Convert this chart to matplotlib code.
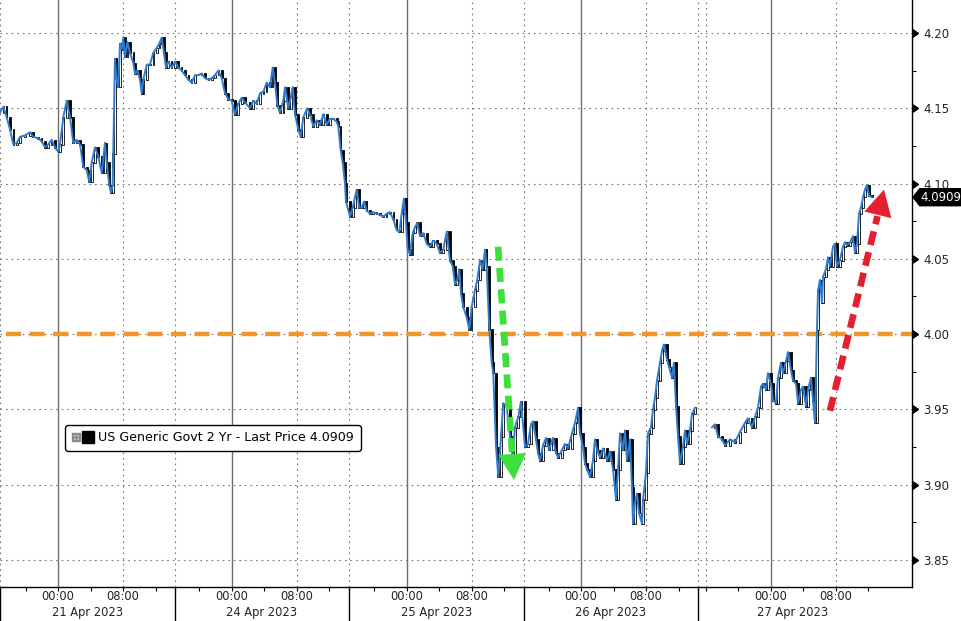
import numpy as np
import matplotlib
matplotlib.use("Agg")
import matplotlib.pyplot as plt
from matplotlib.lines import Line2D
from matplotlib.legend_handler import HandlerTuple
from matplotlib.patches import Polygon
import matplotlib.transforms as mtransforms

# ── data ─────────────────────────────────────────────────────
# x = hours along the compressed trading-time axis (sessions glued together)
t_hours = [
    0.0, 0.41, 0.82, 1.23, 1.64, 2.06, 2.46, 3.08, 3.69, 4.10, 4.71, 5.13, 5.54, 5.94,
    6.36, 6.77, 7.18, 7.38, 7.79, 8.21, 8.62, 9.02, 9.44, 9.85, 10.25, 10.67, 10.99,
    11.29, 11.69, 12.10, 12.52, 12.92, 13.13, 13.45, 13.66, 13.87, 13.94, 14.15, 14.36,
    14.56, 14.77, 14.98, 15.18, 15.38, 15.67, 16.0, 16.41, 16.62, 16.90, 17.23, 17.44,
    17.64, 18.06, 18.46, 18.87, 19.29, 19.61, 19.90, 20.18, 20.43, 20.71, 21.13, 21.54,
    21.94, 22.36, 22.77, 23.18, 23.59, 24.0, 24.41, 24.82, 25.23, 25.64, 26.06, 26.46,
    26.87, 27.29, 27.69, 28.10, 28.52, 28.92, 29.33, 29.75, 30.15, 30.77, 31.17, 31.59,
    32.0, 32.41, 32.82, 33.23, 33.56, 33.85, 34.13, 34.46, 34.87, 35.08, 35.48, 35.78,
    36.02, 36.31, 36.71, 37.01, 37.33, 37.82, 38.15, 38.56, 38.98, 39.38, 39.79, 40.21,
    40.62, 41.02, 41.44, 41.64, 41.93, 42.18, 42.46, 42.58, 43.08, 43.41, 43.69, 43.90,
    44.22, 44.52, 44.80, 45.13, 45.54, 45.94, 46.36, 46.77, 47.17, 47.59, 48.0, 48.41,
    48.82, 49.14, 49.44, 49.72, 49.97, 50.18, 50.46, 50.79, 51.08, 51.36, 51.69, 52.10,
    52.52, 52.92, 53.33, 53.75, 54.15, 54.56, 54.98, 55.38, 55.72, 56.0, 56.28, 56.53,
    56.74, 57.02, 57.44, 57.76, 58.05, 58.46, 58.74, 59.08, 59.41, 59.69, 59.90, 60.22,
    60.52, 60.71, 61.05, 61.33, 61.66, 61.94, 62.36, 62.77, 63.10, 63.38, 63.79, 64.12,
    64.62, 64.98, 65.35, 65.60, 65.97, 66.22, 66.46, 66.83, 67.20, 67.57, 68.06, 68.43,
    68.68, 69.17, 69.54, 69.91, 70.40, 70.77, 71.14, 71.38, 71.75, 72.0, 72.25, 72.62,
    72.98, 73.23, 73.48, 73.85, 74.22, 74.71, 75.08, 75.45, 75.82, 76.06, 76.31, 76.68,
    76.92, 77.17, 77.54, 77.78, 77.91, 78.15, 78.40, 78.65, 79.02, 79.14, 79.51, 79.75,
    80.12, 80.37, 80.62, 80.86, 81.23, 81.48, 81.72, 82.09, 82.34, 82.71, 82.95, 83.20,
    83.45, 83.69, 84.06, 84.31, 84.55, 84.92, 85.17, 85.54, 86.5,
    87.63, 88.0, 88.37, 88.86, 89.23, 89.85, 90.46, 91.08, 91.69, 92.06, 92.55, 92.92,
    93.29, 93.66, 93.91, 94.28, 94.52, 94.89, 95.14, 95.51, 95.75, 96.12, 96.37, 96.74,
    96.98, 97.35, 97.60, 97.97, 98.22, 98.58, 98.83, 99.20, 99.45, 99.82, 100.06, 100.31,
    100.55, 100.68, 100.92, 101.17, 101.29, 101.66, 101.91, 102.15, 102.52, 102.77,
    103.02, 103.38, 103.75, 104.0, 104.25, 104.62, 104.98, 105.23, 105.48, 105.72,
    105.97, 106.22, 106.46, 106.71, 106.95, 107.32,
]
yields = [
    4.147, 4.151, 4.144, 4.136, 4.126, 4.127, 4.131, 4.132, 4.134, 4.131, 4.130, 4.128, 4.124, 4.126,
    4.129, 4.124, 4.121, 4.126, 4.144, 4.155, 4.144, 4.127, 4.129, 4.126, 4.111, 4.109, 4.101,
    4.114, 4.124, 4.118, 4.107, 4.127, 4.114, 4.099, 4.094, 4.099, 4.120, 4.183, 4.169,
    4.164, 4.193, 4.189, 4.197, 4.184, 4.194, 4.187, 4.180, 4.173, 4.175, 4.169, 4.160,
    4.169, 4.179, 4.179, 4.187, 4.190, 4.193, 4.197, 4.187, 4.177, 4.181, 4.177, 4.181,
    4.177, 4.175, 4.172, 4.169, 4.167, 4.172, 4.172, 4.173, 4.170, 4.169, 4.170, 4.172,
    4.175, 4.170, 4.160, 4.156, 4.155, 4.146, 4.153, 4.157, 4.154, 4.150, 4.155, 4.153,
    4.160, 4.161, 4.167, 4.164, 4.177, 4.167, 4.152, 4.147, 4.155, 4.164, 4.150, 4.157,
    4.164, 4.146, 4.136, 4.131, 4.144, 4.150, 4.146, 4.138, 4.142, 4.139, 4.146, 4.139,
    4.143, 4.143, 4.141, 4.138, 4.122, 4.114, 4.100, 4.088, 4.078, 4.084, 4.091, 4.096,
    4.084, 4.084, 4.088, 4.082, 4.080, 4.081, 4.080, 4.079, 4.078, 4.080, 4.081, 4.076,
    4.069, 4.068, 4.080, 4.090, 4.074, 4.056, 4.053, 4.067, 4.071, 4.074, 4.065, 4.067,
    4.060, 4.058, 4.062, 4.060, 4.054, 4.056, 4.068, 4.049, 4.045, 4.033, 4.036, 4.043,
    4.027, 4.018, 4.011, 4.003, 4.018, 4.029, 4.036, 4.049, 4.043, 4.056, 4.045, 4.003,
    3.981, 3.974, 3.925, 3.905, 3.932, 3.954, 3.952, 3.932, 3.918, 3.938, 3.945, 3.955,
    3.925, 3.927, 3.940, 3.942, 3.930, 3.921, 3.916, 3.926, 3.931, 3.923, 3.931, 3.921,
    3.918, 3.923, 3.927, 3.924, 3.934, 3.941, 3.951, 3.934, 3.925, 3.914, 3.910, 3.905,
    3.916, 3.930, 3.923, 3.918, 3.924, 3.916, 3.922, 3.910, 3.890, 3.910, 3.934, 3.923,
    3.936, 3.916, 3.930, 3.898, 3.874, 3.888, 3.894, 3.881, 3.874, 3.890, 3.908, 3.934,
    3.938, 3.950, 3.958, 3.969, 3.981, 3.989, 3.993, 3.983, 3.978, 3.971, 3.981, 3.952,
    3.932, 3.914, 3.925, 3.936, 3.927, 3.936, 3.947, 3.951, np.nan,
    3.938, 3.940, 3.932, 3.930, 3.926, 3.930, 3.928, 3.935, 3.941, 3.944, 3.938, 3.945,
    3.951, 3.965, 3.967, 3.963, 3.974, 3.967, 3.956, 3.954, 3.971, 3.981, 3.974, 3.982,
    3.988, 3.976, 3.969, 3.967, 3.954, 3.963, 3.965, 3.952, 3.963, 3.971, 3.956, 3.941,
    4.003, 4.029, 4.036, 4.021, 4.038, 4.043, 4.051, 4.045, 4.058, 4.060,
    4.045, 4.049, 4.058, 4.061, 4.059, 4.061, 4.065, 4.054, 4.060, 4.080,
    4.084, 4.091, 4.096, 4.099, 4.092, 4.0909,
]

# sessions on the axis: start, end, position of 00:00
session_labels = ["21 Apr 2023", "24 Apr 2023", "25 Apr 2023", "26 Apr 2023", "27 Apr 2023"]
session_start = [0.0, 21.54, 42.95, 64.49, 85.91]
session_end = [21.54, 42.95, 64.49, 85.91, 109.1]
session_midnight = [7.14, 28.55, 50.09, 71.51, 94.89]

y_ticks = [3.85, 3.90, 3.95, 4.00, 4.05, 4.10, 4.15, 4.20]
y_minor = [3.875, 3.925, 3.975, 4.025, 4.075, 4.125, 4.175]
ref_level = 4.00
legend_text = "US Generic Govt 2 Yr - Last Price 4.0909"

# ── figure ───────────────────────────────────────────────────
plt.rcParams["font.family"] = ["DejaVu Sans"]
fig = plt.figure(figsize=(9.62, 6.21), dpi=100)
ax = fig.add_axes([0.0, 1 - 587 / 621, 912 / 962, 587 / 621])
ax.set_xlim(0, 912 / 8.125)
ax.set_ylim(4.0 - 253 / 1505, 4.0 + 334 / 1505)

t = np.array(t_hours)
v = np.array(yields)
dot = (0, (1.5, 3.5))

# grid
for yv in y_ticks:
    ax.axhline(yv, color="#777777", lw=0.8, ls=dot, zorder=1)
for s0, s1, m in zip(session_start, session_end, session_midnight):
    ax.axvline(m, color="#6e6e6e", lw=1.0, zorder=1)
    for k in (-8, 8):
        if s0 < m + k < s1:
            ax.axvline(m + k, color="#777777", lw=0.8, ls=dot, zorder=1)
    ax.axvline(s0, color="#777777", lw=0.8, ls=dot, zorder=1)

# reference line at 4.00
ax.plot([0.8, 912 / 8.125], [ref_level, ref_level], color="#F0962C", lw=3.2,
        ls=(0, (3.4, 1.9)), solid_capstyle="butt", zorder=2)

# candles built from consecutive closes
ok = np.isfinite(v[1:]) & np.isfinite(v[:-1])
o = v[:-1][ok]
c = v[1:][ok]
tc = t[1:][ok]
faces = np.where(c >= o, "white", "black")
ax.bar(tc, np.abs(c - o) + 0.0004, bottom=np.minimum(o, c) - 0.0002, width=0.2,
       color=faces, edgecolor="black", linewidth=0.6, zorder=3)
ax.plot(t, v, color="#2E7BCF", lw=1.4, zorder=4)

# arrows
def dashed_arrow(p0, p1, color):
    x0, y0 = p0
    x1, y1 = p1
    f = 0.88
    xb, yb = x0 + (x1 - x0) * f, y0 + (y1 - y0) * f
    ax.plot([x0, xb], [y0, yb], color=color, lw=4.8, ls=(0, (2.1, 1.1)),
            solid_capstyle="butt", zorder=6)
    ax.annotate("", xy=(x1, y1), xytext=(xb, yb),
                arrowprops=dict(arrowstyle="-|>,head_length=0.75,head_width=0.4",
                                mutation_scale=25, color=color, lw=0,
                                shrinkA=0, shrinkB=0), zorder=6)

dashed_arrow((61.3, 4.058), (63.26, 3.903), "#3BE03B")
dashed_arrow((102.15, 3.949), (108.8, 4.096), "#E5202E")

# spines
for side in ("left", "top"):
    ax.spines[side].set_visible(False)
for side in ("bottom", "right"):
    ax.spines[side].set_color("black")
    ax.spines[side].set_linewidth(1.0)

# y axis on the right
ax.yaxis.tick_right()
ax.set_yticks(y_ticks)
ax.set_yticklabels([f"{y:.2f}" for y in y_ticks])
ax.set_yticks(y_minor, minor=True)
ax.tick_params(axis="y", which="major", length=0, pad=8, labelsize=8.5, labelcolor="#222222")
ax.tick_params(axis="y", which="minor", length=3, width=0.8, color="black", direction="out")
ax.plot([1.0] * len(y_ticks), y_ticks, ls="", marker=9, ms=5.5, color="black",
        transform=ax.get_yaxis_transform(), clip_on=False, zorder=7)

# x axis: 4-hour ticks inside each session, two-level labels
xt = []
for s0, s1, m in zip(session_start, session_end, session_midnight):
    for k in range(-3, 6):
        p = m + 4 * k
        if s0 + 0.5 < p < s1 - 0.5:
            xt.append(p)
ax.set_xticks(xt)
ax.set_xticklabels([])
ax.tick_params(axis="x", length=3, width=0.8, color="black", direction="out")

xtr = ax.get_xaxis_transform()
for lab, s0, s1, m in zip(session_labels, session_start, session_end, session_midnight):
    ax.text(m, -0.017, "00:00", transform=xtr, ha="center", va="center", fontsize=8.3, color="#222222")
    ax.text(m + 8, -0.017, "08:00", transform=xtr, ha="center", va="center", fontsize=8.3, color="#222222")
    ax.text((s0 + s1) / 2, -0.043, lab, transform=xtr, ha="center", va="center", fontsize=8.3, color="#222222")
    ax.plot([s0, s0], [0, -0.06], transform=xtr, color="black", lw=1.0, clip_on=False)

# last price tag
btr = mtransforms.blended_transform_factory(ax.transAxes, ax.transData)
last = yields[-1]
hh = 8.5 / 1505
tag = Polygon([[1.0012, last], [1.0085, last + hh], [1.0548, last + hh],
               [1.0548, last - hh], [1.0085, last - hh]], closed=True,
              facecolor="black", edgecolor="black", transform=btr, clip_on=False, zorder=8)
ax.add_patch(tag)
ax.text(1.0322, last, f"{last:.4f}", transform=btr, ha="center", va="center",
        fontsize=8.5, color="white", zorder=9)

# legend
h_icon = Line2D([], [], ls="", marker=r"$\boxplus$", ms=5.5, color="#8a8a8a")
h_sq = Line2D([], [], ls="", marker="s", ms=8, color="black")
leg = ax.legend([(h_icon, h_sq)], [legend_text],
                handler_map={tuple: HandlerTuple(ndivide=None, pad=0.3)},
                loc="upper left", bbox_to_anchor=(65 / 962, 1 - 425 / 621),
                bbox_transform=fig.transFigure, borderaxespad=0, fontsize=9.1,
                handlelength=1.7, handletextpad=0.45, borderpad=0.5,
                frameon=True, fancybox=True, framealpha=1)
leg.get_frame().set_edgecolor("black")
leg.get_frame().set_linewidth(1.0)
leg.set_zorder(10)

fig.savefig("out.png", dpi=100, facecolor="white")
